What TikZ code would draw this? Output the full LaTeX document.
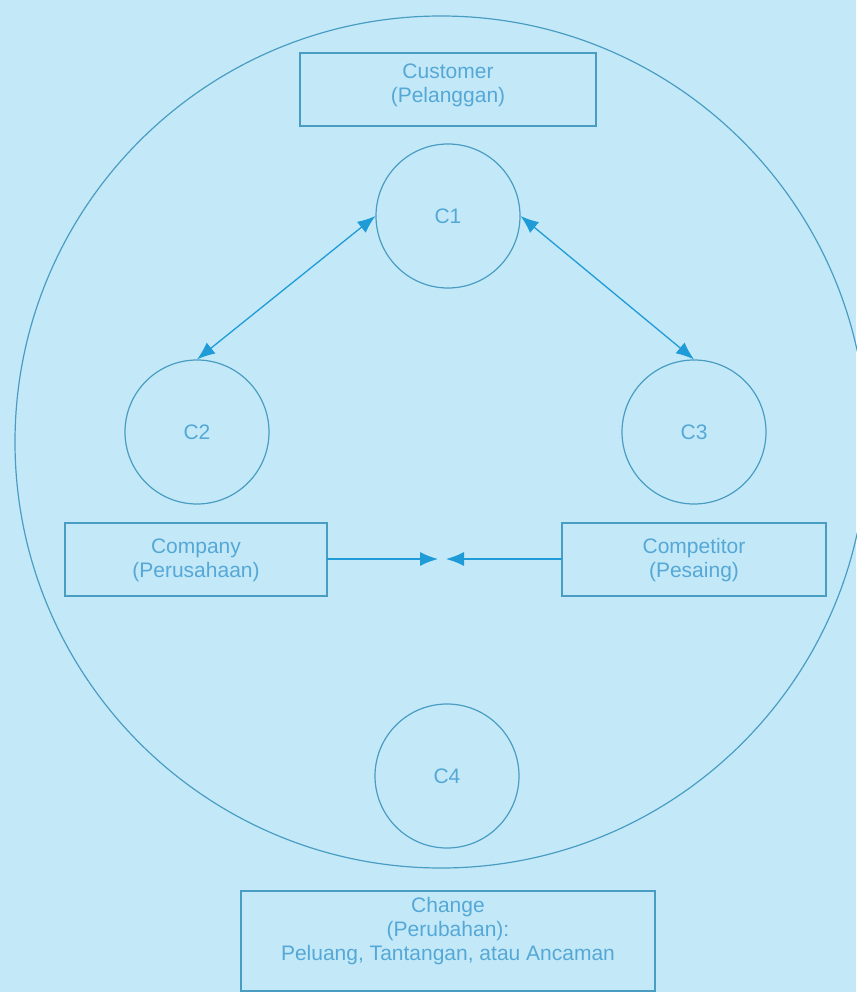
\documentclass[tikz,border=0pt]{standalone}
\usepackage{fontspec}
\setmainfont{Liberation Sans}
\usetikzlibrary{arrows.meta}
\definecolor{bgc}{HTML}{C3E9F9}
\definecolor{linec}{HTML}{4A9DC2}
\definecolor{arrc}{HTML}{1F9BD7}
\definecolor{txtc}{HTML}{55A8D6}
\tikzset{
  lab/.style={text=txtc, font=\fontsize{21}{24}\selectfont, align=center, inner sep=0pt},
  cnode/.style={circle, draw=linec, line width=1.2pt, minimum size=144pt, inner sep=0pt, text=txtc, font=\fontsize{21}{24}\selectfont},
  boxr/.style={draw=linec, line width=1.2pt},
  conn/.style={draw=arrc, line width=1.3pt},
  tip/.style={-{Latex[length=18pt,width=14pt]}},
  dtip/.style={{Latex[length=18pt,width=14pt]}-{Latex[length=18pt,width=14pt]}}
}
\begin{document}
\begin{tikzpicture}[x=1pt,y=-1pt]
\fill[bgc] (0,0) rectangle (856,992);
\useasboundingbox (0,0) rectangle (856,992);
% big circle
\node[circle, draw=linec, line width=1.2pt, minimum size=852pt, inner sep=0pt] (big) at (441,442) {};
% boxes
\draw[boxr] (300,53) rectangle (596,126);
\node[lab] (cust) at (448,85) {Customer\\(Pelanggan)};
\draw[boxr] (65,523) rectangle (327,596);
\node[lab] (comp) at (196,560) {Company\\(Perusahaan)};
\draw[boxr] (562,523) rectangle (826,596);
\node[lab] (compt) at (694,560) {Competitor\\(Pesaing)};
\draw[boxr] (241,891) rectangle (655,991);
\node[lab] (chg) at (448,931) {Change\\(Perubahan):\\Peluang, Tantangan, atau Ancaman};
% circles
\node[cnode] (c1) at (448,216) {C1};
\node[cnode] (c2) at (197,432) {C2};
\node[cnode] (c3) at (694,432) {C3};
\node[cnode] (c4) at (447,776) {C4};
% connector coordinates
\coordinate (compE) at (327,559);
\coordinate (comptW) at (562,559);
\coordinate (tipL) at (438,559);
\coordinate (tipR) at (446,559);
\draw[conn, dtip] (c2.north) -- (c1.west);
\draw[conn, dtip] (c3.north) -- (c1.east);
\draw[conn, tip] (compE) -- (tipL);
\draw[conn, tip] (comptW) -- (tipR);
\end{tikzpicture}
\end{document}
